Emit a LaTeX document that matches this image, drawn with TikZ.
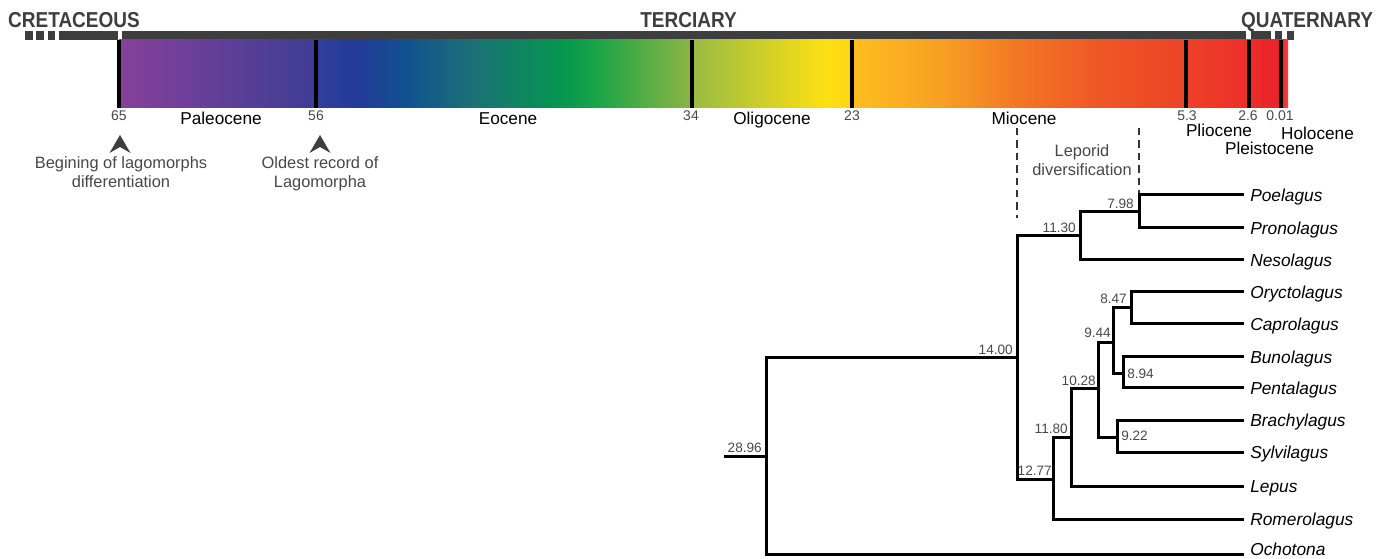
\documentclass[tikz,border=0pt]{standalone}
\usepackage{fontspec}
\setmainfont{Liberation Sans}
\newfontfamily\periodfont{Liberation Sans}[FakeStretch=0.88]
\definecolor{periodgray}{HTML}{3E3E3E}
\definecolor{numgray}{HTML}{484848}
\definecolor{annotgray}{HTML}{474747}
\definecolor{dashgray}{HTML}{333333}
\tikzset{
  branch/.style={line width=2.25pt, line cap=rect, line join=miter, black},
  epochline/.style={line width=3pt, black},
  agelab/.style={font=\fontsize{10.5}{12}\selectfont, text=numgray, inner sep=0pt, anchor=base},
  epochlab/.style={font=\fontsize{12.9}{15}\selectfont, inner sep=0pt, anchor=base},
  periodlab/.style={font=\periodfont\bfseries\fontsize{16.2}{18}\selectfont, text=periodgray, inner sep=0pt, anchor=base},
  nodelab/.style={font=\fontsize{10.2}{12}\selectfont, text=numgray, inner sep=0pt, text height=7.3pt, text depth=0pt},
  taxon/.style={font=\fontsize{13}{15}\selectfont\itshape, anchor=west, inner xsep=6pt, inner ysep=0pt, text height=9.3pt, text depth=0pt},
  annot/.style={font=\fontsize{12.3}{14.25}\selectfont, text=annotgray, align=center, inner sep=0pt, anchor=north},
  pointer/.style={fill=periodgray},
  leporid/.style={line width=1.7pt, dashgray, dash pattern=on 5.5pt off 3.8pt},
}
\begin{document}
\begin{tikzpicture}[x=0.75pt,y=-0.75pt]
\useasboundingbox (0,0) rectangle (1388,559);

% ---------- period bar ----------
\fill[periodgray] (25,31) rectangle (33,40);
\fill[periodgray] (36,31) rectangle (44,40);
\fill[periodgray] (48,31) rectangle (55,40);
\fill[periodgray] (59,31) rectangle (118,40);
\fill[periodgray] (121.5,31) rectangle (1246,40);
\fill[periodgray] (1251,31) rectangle (1271,40);
\fill[periodgray] (1275,31) rectangle (1282,40);
\fill[periodgray] (1287,31) rectangle (1294,40);

\node[periodlab] (cret) at (74,28) {CRETACEOUS};
\node[periodlab] (terc) at (688.5,28) {TERCIARY};
\node[periodlab] (quat) at (1307,28) {QUATERNARY};

% ---------- epoch colour bar ----------
\shade[left color={rgb,255:red,134;green,64;blue,154}, right color={rgb,255:red,62;green,61;blue,149}] (119,40) rectangle (316.5,108);
\shade[left color={rgb,255:red,49;green,63;blue,154}, right color={rgb,255:red,35;green,59;blue,153}] (316,40) rectangle (357.5,108);
\shade[left color={rgb,255:red,35;green,59;blue,153}, right color={rgb,255:red,17;green,81;blue,143}] (357,40) rectangle (406.5,108);
\shade[left color={rgb,255:red,17;green,81;blue,143}, right color={rgb,255:red,27;green,112;blue,119}] (406,40) rectangle (470.5,108);
\shade[left color={rgb,255:red,27;green,112;blue,119}, right color={rgb,255:red,5;green,150;blue,79}] (470,40) rectangle (560.5,108);
\shade[left color={rgb,255:red,5;green,150;blue,79}, right color={rgb,255:red,24;green,164;blue,71}] (560,40) rectangle (594.5,108);
\shade[left color={rgb,255:red,24;green,164;blue,71}, right color={rgb,255:red,143;green,181;blue,69}] (594,40) rectangle (692.5,108);
\shade[left color={rgb,255:red,152;green,187;blue,67}, right color={rgb,255:red,254;green,224;blue,18}] (692,40) rectangle (826.5,108);
\shade[left color={rgb,255:red,254;green,224;blue,18}, right color={rgb,255:red,253;green,211;blue,22}] (826,40) rectangle (852.5,108);
\shade[left color={rgb,255:red,253;green,190;blue,30}, right color={rgb,255:red,247;green,160;blue,35}] (852,40) rectangle (940.5,108);
\shade[left color={rgb,255:red,247;green,160;blue,35}, right color={rgb,255:red,242;green,117;blue,36}] (940,40) rectangle (1020.5,108);
\shade[left color={rgb,255:red,242;green,117;blue,36}, right color={rgb,255:red,239;green,87;blue,38}] (1020,40) rectangle (1100.5,108);
\shade[left color={rgb,255:red,239;green,87;blue,38}, right color={rgb,255:red,236;green,67;blue,38}] (1100,40) rectangle (1186.5,108);
\shade[left color={rgb,255:red,238;green,65;blue,40}, right color={rgb,255:red,236;green,46;blue,41}] (1186,40) rectangle (1249.5,108);
\shade[left color={rgb,255:red,236;green,46;blue,41}, right color={rgb,255:red,232;green,33;blue,42}] (1249,40) rectangle (1281.5,108);
\shade[left color={rgb,255:red,240;green,40;blue,42}, right color={rgb,255:red,255;green,59;blue,59}] (1281,40) rectangle (1288,108);

% boundary lines
\foreach \nm/\xx in {b65/119, b56/316, b34/692, b23/852, b53/1186, b26/1249, b001/1281}{
  \coordinate (\nm t) at (\xx,40);
  \coordinate (\nm b) at (\xx,108);
  \draw[epochline] (\nm t) -- (\nm b);
}

% ages
\node[agelab] (a65) at (119,121) {65};
\node[agelab] (a56) at (316,121) {56};
\node[agelab] (a34) at (691,121) {34};
\node[agelab] (a23) at (852,121) {23};
\node[agelab] (a53) at (1187,121) {5.3};
\node[agelab] (a26) at (1248,121) {2.6};
\node[agelab] (a001) at (1280,121) {0.01};

% epoch names
\node[epochlab] (paleo) at (221,125) {Paleocene};
\node[epochlab] (eoc) at (508,125) {Eocene};
\node[epochlab] (olig) at (772,125) {Oligocene};
\node[epochlab] (mioc) at (1024,125) {Miocene};
\node[epochlab] (plio) at (1219,137) {Pliocene};
\node[epochlab] (holo) at (1317.5,140) {Holocene};
\node[epochlab] (pleis) at (1269.5,155) {Pleistocene};

% annotations
\fill[pointer] (120,135) -- (130.5,153) -- (120,147) -- (109.5,153) -- cycle;
\fill[pointer] (320,135) -- (330.5,153) -- (320,147) -- (309.5,153) -- cycle;
\node[annot] (begin) at (121,156) {Begining of lagomorphs\\differentiation};
\node[annot] (oldest) at (320,156) {Oldest record of\\Lagomorpha};
\node[annot] (lepdiv) at (1082,144) {Leporid\\diversification};

% ---------- tree ----------
\coordinate (stub) at (725,456);
\coordinate (root) at (766,456);
\coordinate (n1400) at (1017,358);
\coordinate (n1130) at (1080,236);
\coordinate (n798) at (1139,212);
\coordinate (n1277) at (1053,479);
\coordinate (n1180) at (1071,437);
\coordinate (n1028) at (1098,389);
\coordinate (n944) at (1113,343);
\coordinate (n847) at (1131,308);
\coordinate (n894) at (1123,374);
\coordinate (n922) at (1117,437);
\coordinate (ochtip) at (1242,554);

\node[taxon] (poe) at (1242,195) {Poelagus};
\node[taxon] (pro) at (1242,228) {Pronolagus};
\node[taxon] (nes) at (1242,260) {Nesolagus};
\node[taxon] (ory) at (1242,292) {Oryctolagus};
\node[taxon] (cap) at (1242,324) {Caprolagus};
\node[taxon] (bun) at (1242,357) {Bunolagus};
\node[taxon] (pen) at (1242,388) {Pentalagus};
\node[taxon] (bra) at (1242,420) {Brachylagus};
\node[taxon] (syl) at (1242,452) {Sylvilagus};
\node[taxon] (lep) at (1242,486) {Lepus};
\node[taxon] (rom) at (1242,519) {Romerolagus};
\node[taxon] (och) at (1242,549.5) {Ochotona};

% leporid diversification window
\coordinate (d1t) at (1017,128);
\coordinate (d1b) at (1017,218);
\coordinate (d2t) at (1139,128);
\draw[leporid] (d1t) -- (d1b);
\draw[leporid] (d2t) -- (n798 |- poe.west);

\draw[branch] (stub) -- (root);
\draw[branch] (root) |- (n1400);
\draw[branch] (root) |- (ochtip);
\draw[branch] (n1400) |- (n1130);
\draw[branch] (n1400) |- (n1277);
\draw[branch] (n1130) |- (n798);
\draw[branch] (n1130) |- (nes.west);
\draw[branch] (n798) |- (poe.west);
\draw[branch] (n798) |- (pro.west);
\draw[branch] (n1277) |- (n1180);
\draw[branch] (n1277) |- (rom.west);
\draw[branch] (n1180) |- (n1028);
\draw[branch] (n1180) |- (lep.west);
\draw[branch] (n1028) |- (n944);
\draw[branch] (n1028) |- (n922);
\draw[branch] (n944) |- (n847);
\draw[branch] (n944) |- (n894);
\draw[branch] (n847) |- (ory.west);
\draw[branch] (n847) |- (cap.west);
\draw[branch] (n894) |- (bun.west);
\draw[branch] (n894) |- (pen.west);
\draw[branch] (n922) |- (bra.west);
\draw[branch] (n922) |- (syl.west);

% node ages
\node[nodelab, anchor=south east] (l2896) at (762,453) {28.96};
\node[nodelab, anchor=south east] (l1400) at (1013,355) {14.00};
\node[nodelab, anchor=south east] (l1130) at (1076,233) {11.30};
\node[nodelab, anchor=south east] (l798) at (1134,209) {7.98};
\node[nodelab, anchor=south east] (l847) at (1127,304) {8.47};
\node[nodelab, anchor=south east] (l944) at (1111,338) {9.44};
\node[nodelab, anchor=south east] (l1028) at (1096,386) {10.28};
\node[nodelab, anchor=south east] (l1180) at (1068,434) {11.80};
\node[nodelab, anchor=south east] (l1277) at (1052,476) {12.77};
\node[nodelab, anchor=west] (l894) at (1127,373.5) {8.94};
\node[nodelab, anchor=west] (l922) at (1121,435.5) {9.22};
\end{tikzpicture}
\end{document}
